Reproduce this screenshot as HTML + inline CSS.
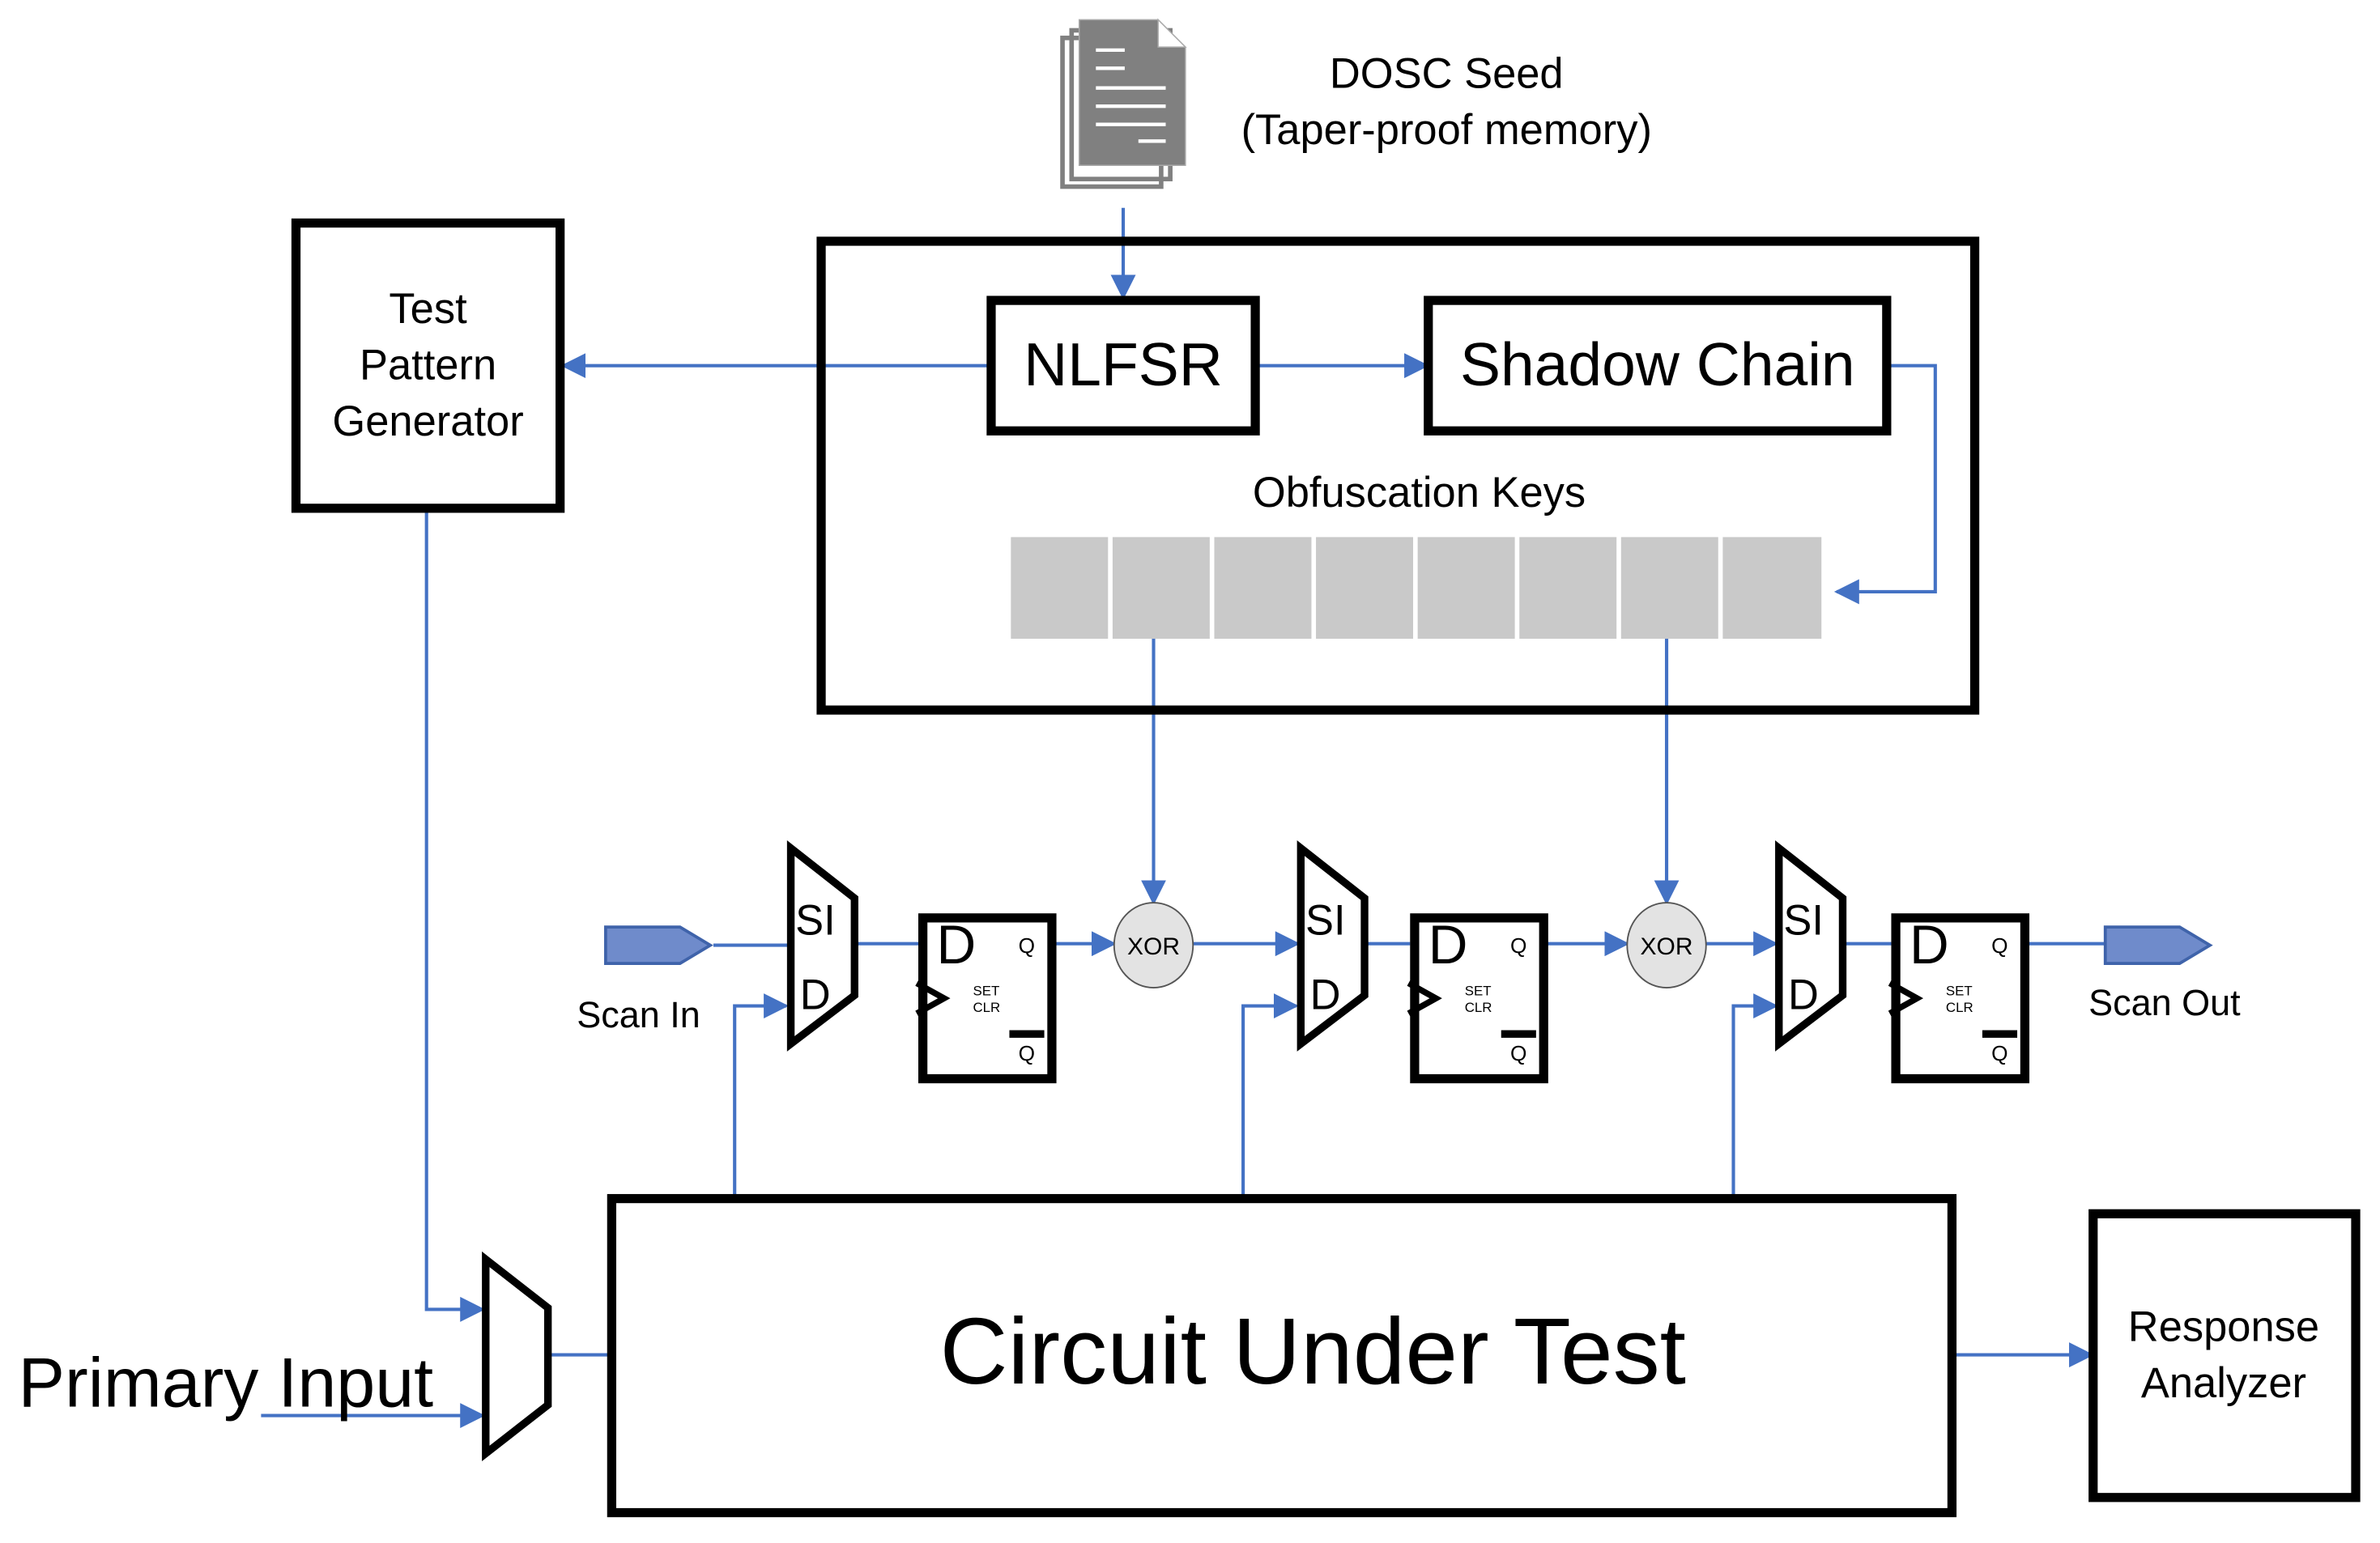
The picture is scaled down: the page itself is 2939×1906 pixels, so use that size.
<!DOCTYPE html>
<html><head><meta charset="utf-8"><style>
html,body{margin:0;padding:0;background:#fff;width:2939px;height:1906px;overflow:hidden}
svg{display:block}
text{font-family:"Liberation Sans",Arial,sans-serif;fill:#000}
</style></head><body>
<svg width="2939" height="1906" viewBox="0 0 1568 1017" preserveAspectRatio="none" xmlns="http://www.w3.org/2000/svg">
<defs>
<marker id="a" viewBox="0 0 10 10" refX="9" refY="5" markerWidth="7.5" markerHeight="7.5" orient="auto" markerUnits="strokeWidth"><path d="M0,0L10,5L0,10z" fill="#4472c4"/></marker>
</defs>
<g fill="none" stroke="#4472c4" stroke-width="2.2">
<line x1="740" y1="137" x2="740" y2="196" marker-end="url(#a)"/>
<line x1="652" y1="241" x2="371" y2="241" marker-end="url(#a)"/>
<line x1="827" y1="241" x2="940" y2="241" marker-end="url(#a)"/>
<polyline points="1243,241 1275,241 1275,390 1210,390" marker-end="url(#a)"/>
<line x1="760" y1="421" x2="760" y2="595" marker-end="url(#a)"/>
<line x1="1098" y1="421" x2="1098" y2="595" marker-end="url(#a)"/>
<line x1="470" y1="623" x2="519" y2="623"/>
<line x1="565" y1="622" x2="605" y2="622"/>
<line x1="695" y1="622" x2="734" y2="622" marker-end="url(#a)"/>
<line x1="786" y1="622" x2="855" y2="622" marker-end="url(#a)"/>
<line x1="900" y1="622" x2="929" y2="622"/>
<line x1="1018" y1="622" x2="1072" y2="622" marker-end="url(#a)"/>
<line x1="1124" y1="622" x2="1170" y2="622" marker-end="url(#a)"/>
<line x1="1215" y1="622" x2="1246" y2="622"/>
<line x1="1336" y1="622" x2="1387" y2="622"/>
<polyline points="484,790 484,663 518,663" marker-end="url(#a)"/>
<polyline points="819,790 819,663 854,663" marker-end="url(#a)"/>
<polyline points="1142,790 1142,663 1170,663" marker-end="url(#a)"/>
<polyline points="281,335 281,863 318,863" marker-end="url(#a)"/>
<line x1="172" y1="933" x2="318" y2="933" marker-end="url(#a)"/>
<line x1="363" y1="893" x2="402" y2="893"/>
<line x1="1286" y1="893" x2="1378" y2="893" marker-end="url(#a)"/>
</g>
<g fill="#808080">
<rect x="700" y="25" width="65" height="98" fill="none" stroke="#808080" stroke-width="3"/>
<rect x="706" y="20" width="65" height="98" fill="none" stroke="#808080" stroke-width="3"/>
<path d="M711,13 L763,13 L781,31 L781,109 L711,109 Z" stroke="#aaa" stroke-width="0.8"/>
<path d="M763,13 L763,31 L781,31 Z" fill="#fff" stroke="#aaa" stroke-width="0.8"/>
</g>
<g stroke="#fff" stroke-width="2.3">
<line x1="722" y1="33" x2="741" y2="33"/><line x1="722" y1="45" x2="741" y2="45"/>
<line x1="722" y1="58" x2="768" y2="58"/><line x1="722" y1="70" x2="768" y2="70"/>
<line x1="722" y1="82" x2="768" y2="82"/><line x1="750" y1="93" x2="768" y2="93"/>
</g>
<text x="953" y="58" font-size="28" text-anchor="middle">DOSC Seed</text>
<text x="953" y="95" font-size="28" text-anchor="middle">(Taper-proof memory)</text>
<g fill="none" stroke="#000" stroke-width="6">
<rect x="541" y="159" width="760" height="309"/>
<rect x="653" y="198" width="174" height="86"/>
<rect x="941" y="198" width="302" height="86"/>
<rect x="195" y="147" width="174" height="188"/>
<rect x="403" y="790" width="883" height="207"/>
<rect x="1379" y="800" width="173" height="187"/>
<polygon points="521,559 563,592 563,656 521,688" stroke-width="5"/>
<polygon points="857,559 899,592 899,656 857,688" stroke-width="5"/>
<polygon points="1172,559 1214,592 1214,656 1172,688" stroke-width="5"/>
<polygon points="320,830 361,862 361,926 320,958" stroke-width="5"/>
<rect x="608" y="605" width="85" height="106"/>
<rect x="932" y="605" width="85" height="106"/>
<rect x="1249" y="605" width="85" height="106"/>
</g>
<text x="740" y="254" font-size="40" text-anchor="middle">NLFSR</text>
<text x="1092" y="254" font-size="40" text-anchor="middle">Shadow Chain</text>
<g font-size="28" text-anchor="middle">
<text x="282" y="213">Test</text><text x="282" y="250">Pattern</text><text x="282" y="287">Generator</text>
<text x="935" y="334">Obfuscation Keys</text>
<text x="1465" y="884">Response</text><text x="1465" y="921">Analyzer</text>
</g>
<g fill="#c9c9c9">
<rect x="666" y="354" width="64" height="67"/><rect x="733" y="354" width="64" height="67"/>
<rect x="800" y="354" width="64" height="67"/><rect x="867" y="354" width="64" height="67"/>
<rect x="934" y="354" width="64" height="67"/><rect x="1001" y="354" width="64" height="67"/>
<rect x="1068" y="354" width="64" height="67"/><rect x="1135" y="354" width="65" height="67"/>
</g>
<text x="865" y="912" font-size="62" text-anchor="middle">Circuit Under Test</text>
<text x="12" y="927" font-size="46">Primary Input</text>
<text x="380" y="677" font-size="24">Scan In</text>
<text x="1376" y="669" font-size="24">Scan Out</text>
<polygon points="399,611 448,611 468,623 448,635 399,635" fill="#6f8bcb" stroke="#3f63aa" stroke-width="2"/>
<polygon points="1387,611 1436,611 1456,623 1436,635 1387,635" fill="#6f8bcb" stroke="#3f63aa" stroke-width="2"/>
<ellipse cx="760" cy="623" rx="26" ry="28" fill="#e3e3e3" stroke="#555" stroke-width="1"/>
<ellipse cx="1098" cy="623" rx="26" ry="28" fill="#e3e3e3" stroke="#555" stroke-width="1"/>
<text x="760" y="629" font-size="16" text-anchor="middle">XOR</text>
<text x="1098" y="629" font-size="16" text-anchor="middle">XOR</text>
<g font-size="28">
<text x="524" y="616">SI</text><text x="527" y="665">D</text>
<text x="860" y="616">SI</text><text x="863" y="665">D</text>
<text x="1175" y="616">SI</text><text x="1178" y="665">D</text>
</g>
<g id="ff">
<text x="617" y="635" font-size="36">D</text>
<text x="671" y="628" font-size="14">Q</text>
<text x="671" y="699" font-size="14">Q</text>
<rect x="665" y="679" width="23" height="5" fill="#000"/>
<text x="641" y="656" font-size="9" fill="#000">SET</text>
<text x="641" y="667" font-size="9" fill="#000">CLR</text>
<polyline points="604,648 622,658 604,668" fill="none" stroke="#000" stroke-width="4"/>
</g>
<use href="#ff" x="324"/>
<use href="#ff" x="641"/>
</svg>
</body></html>
